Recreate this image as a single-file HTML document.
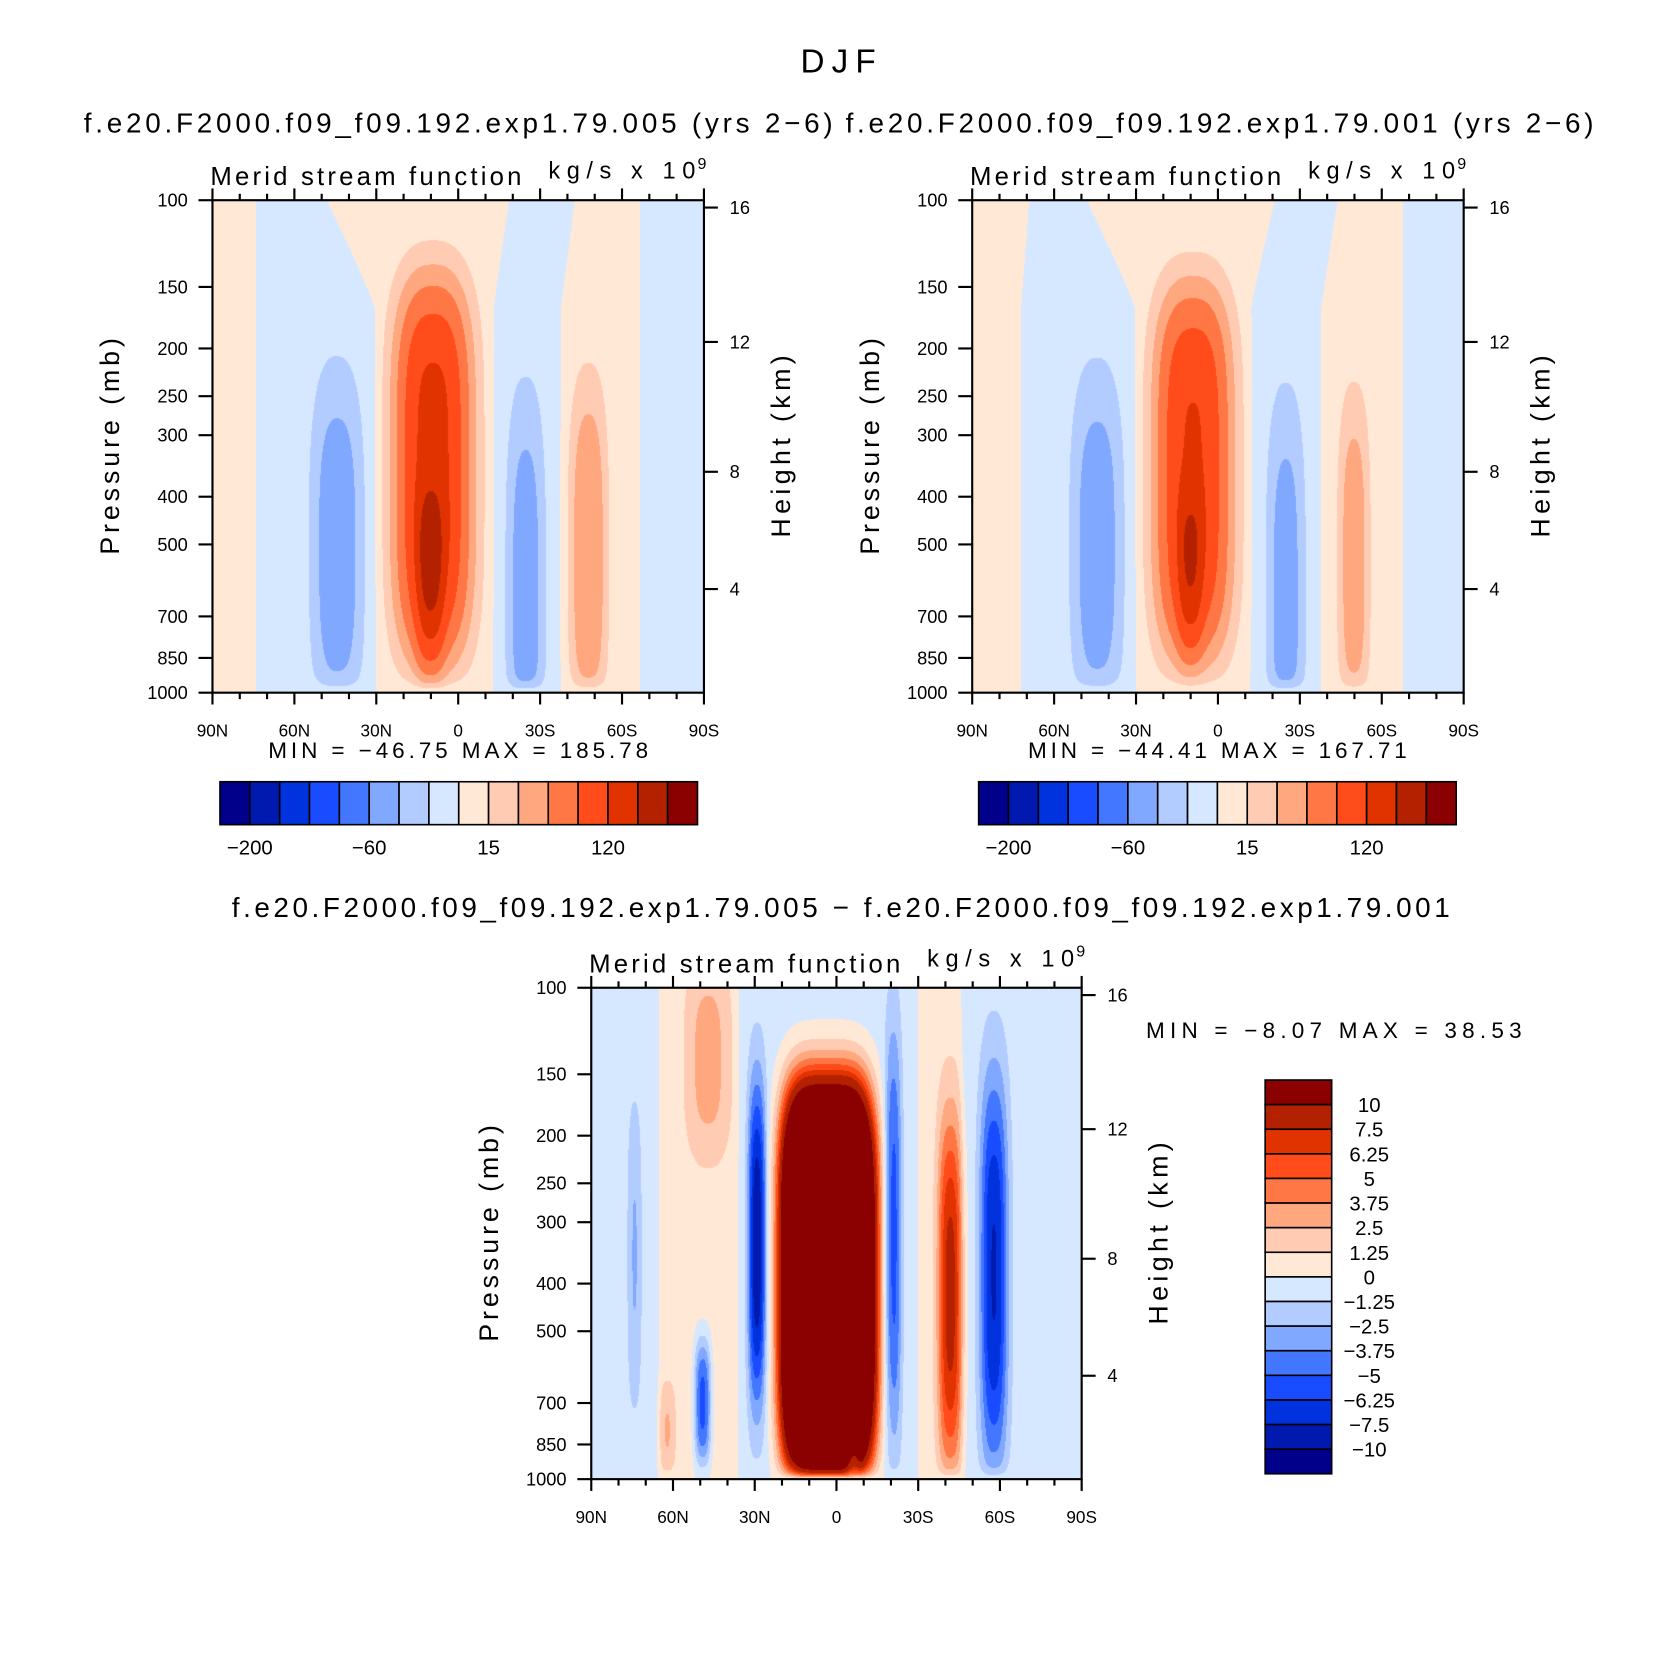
<!DOCTYPE html>
<html><head><meta charset="utf-8">
<style>
html,body{margin:0;padding:0;background:#fff;}
#wrap{position:relative;width:1674px;height:1677px;overflow:hidden;background:#fff;}
canvas{position:absolute;}
svg{position:absolute;left:0;top:0;}
text{font-family:"Liberation Sans",sans-serif;fill:#000;}
</style></head>
<body>
<div id="wrap">
<canvas id="c1"></canvas>
<canvas id="c2"></canvas>
<canvas id="c3"></canvas>
<svg id="svg" width="1674" height="1677" viewBox="2 2.4 1560 1563" preserveAspectRatio="none"></svg>
</div>
<script>
// ---------- data ----------
const colors16 = ['#00008B','#001AAF','#0033DD','#1A4CFF','#4477FF','#80A8FF','#B3CCFF','#D6E8FF','#FFE8D6','#FFCCB3','#FFA880','#FF7744','#FF4C1A','#E03300','#B32100','#8B0000'];
const levelsTop = [-200,-160,-120,-90,-60,-40,-20,0,15,30,50,80,120,160,200];
const levelsDiff = [-10,-7.5,-6.25,-5,-3.75,-2.5,-1.25,0,1.25,2.5,3.75,5,6.25,7.5,10];
const diffLevelLabels = ['10','7.5','6.25','5','3.75','2.5','1.25','0','\u22121.25','\u22122.5','\u22123.75','\u22125','\u22126.25','\u22127.5','\u221210'];
const pressureTicks = [100,150,200,250,300,400,500,700,850,1000];
const heightKm = [4,8,12,16];
const heightPres = [616,356,194,103.5];
const latTicks = [90,60,30,0,-30,-60,-90];
const latTickLabels = ['90N','60N','30N','0','30S','60S','90S'];
const topCbLabelIdx = [1,5,9,13];
const topCbLabels = ['\u2212200','\u221260','15','120'];

// plot 1 (exp .005) blobs
const p1Lat  = [9, 10, 44, 45, -48, -25];
const p1Pres = [355, 600, 520, 420, 525, 640];
const p1Amp  = [130, 65, -46, -8, 45, -50];
const p1WLat = [13, 5, 9, 12, 6.5, 7];
const p1WY   = [0.37, 0.19, 0.34, 0.45, 0.34, 0.42];
const p1BgTop = [74, 48, -19, -43, -67];
const p1BgLow = [74, 30, -13, -38, -67];
const p1BgMag = 5;
// plot 2 (exp .001) blobs
const p2Lat  = [9, 10, 44, 45, -50, -25];
const p2Pres = [360, 580, 520, 420, 540, 650];
const p2Amp  = [118, 55, -44, -8, 38, -48];
const p2WLat = [13, 4.5, 9, 12, 5.5, 7];
const p2WY   = [0.36, 0.17, 0.34, 0.45, 0.33, 0.42];
const p2BgTop = [69, 48, -21, -44, -68];
const p2BgLow = [72, 30, -12, -38, -68];
const p2BgMag = 5;
// difference blobs
const dLat  = [3, 29, 49, -6, -21, -42, -58, 47, 74, 62];
const dPres = [400, 330, 700, 830, 320, 420, 380, 140, 350, 800];
const dAmp  = [42, -8, -6, -7, -5, 7.5, -7, 2.5, -2, 2];
const dWLat = [16, 3.2, 3, 2.5, 3, 4.5, 5, 8, 2.5, 3];
const dWY   = [0.375, 0.33, 0.13, 0.07, 0.42, 0.36, 0.4, 0.2, 0.3, 0.1];
const dBgTop = [65, 36, -30, -46];
const dBgLow = [65, 36, -30, -46];
const dBgMag = -0.6;

const minMax1 = ['\u221246.75','185.78'];
const minMax2 = ['\u221244.41','167.71'];
const minMaxD = ['\u22128.07','38.53'];

// ---------- geometry ----------
const SX = 1674/1560, SY = 1677/1563, OX = 2, OY = 2.4;
const rx = d => (d-OX)*SX, ry = d => (d-OY)*SY;
const P1 = {x0:200,x1:658,y0:189,y1:648};
const P2 = {x0:908,x1:1366,y0:189,y1:648};
const P3 = {x0:553,x1:1010,y0:923,y1:1381};
const xOf = (P,lat) => P.x0 + (90-lat)/180*(P.x1-P.x0);
const yOf = (P,p) => P.y0 + Math.log10(p/100)*(P.y1-P.y0);

// ---------- field ----------
function makeField(lat, pres, amp, wl, wy, bgT, bgL, mag){
  const yc = pres.map(p=>Math.log10(p/100));
  return function(la, f){
    const w = Math.min(1, f/0.22);
    let prod = 1;
    for(let i=0;i<bgT.length;i++){
      const b = bgT[i]*(1-w) + bgL[i]*w;
      prod *= Math.tanh((la-b)/1.2);
    }
    let v = mag*prod;
    for(let i=0;i<lat.length;i++){
      const dx = Math.abs((la-lat[i])/wl[i]);
      const dy = Math.abs((f-yc[i])/wy[i]);
      const px = i===0 && amp===dAmp ? 4 : 2.5;
      const py = (i===0) ? 4 : 3;
      v += amp[i]*Math.exp(-(Math.pow(dx,px)+Math.pow(dy,py)));
    }
    v *= (1-Math.exp(-(1-f)/0.015));
    return v;
  };
}
function hexRGB(h){return [parseInt(h.slice(1,3),16),parseInt(h.slice(3,5),16),parseInt(h.slice(5,7),16)];}
const rgb = colors16.map(hexRGB);
function boxIndex(v, lev){let k=0; while(k<lev.length && v>=lev[k]) k++; return k;}
function paint(id, P, fn, lev){
  const c = document.getElementById(id);
  const L = rx(P.x0), T = ry(P.y0), W = Math.round(rx(P.x1)-L), H = Math.round(ry(P.y1)-T);
  c.width=W; c.height=H; c.style.left=L+'px'; c.style.top=T+'px';
  const ctx=c.getContext('2d'); const im=ctx.createImageData(W,H);
  for(let j=0;j<H;j++){ const f=(j+0.5)/H;
    for(let i=0;i<W;i++){ const la=90-180*(i+0.5)/W;
      const col=rgb[boxIndex(fn(la,f),lev)]; const o=(j*W+i)*4;
      im.data[o]=col[0];im.data[o+1]=col[1];im.data[o+2]=col[2];im.data[o+3]=255; } }
  ctx.putImageData(im,0,0);
}
paint('c1',P1,makeField(p1Lat,p1Pres,p1Amp,p1WLat,p1WY,p1BgTop,p1BgLow,p1BgMag),levelsTop);
paint('c2',P2,makeField(p2Lat,p2Pres,p2Amp,p2WLat,p2WY,p2BgTop,p2BgLow,p2BgMag),levelsTop);
paint('c3',P3,makeField(dLat,dPres,dAmp,dWLat,dWY,dBgTop,dBgLow,dBgMag),levelsDiff);

// ---------- svg ----------
const svg=document.getElementById('svg'); const NS='http://www.w3.org/2000/svg';
function el(tag, attrs, parent){const e=document.createElementNS(NS,tag); for(const k in attrs) e.setAttribute(k,attrs[k]); (parent||svg).appendChild(e); return e;}
function txt(s, attrs, parent){const e=el('text',attrs,parent); e.textContent=s; return e;}

function axes(P, key){
  const g=el('g',{});
  
  
  const fr=el('rect',{x:P.x0,y:P.y0,width:P.x1-P.x0,height:P.y1-P.y0,fill:'none',stroke:'#000','stroke-width':2},g);
  
  
  for(let lat=90;lat>=-90;lat-=10){
    const x=xOf(P,lat), major=(lat%30===0), len=major?11:6;
    el('line',{x1:x,x2:x,y1:P.y1,y2:P.y1+len,stroke:'#000','stroke-width':2},g);
    el('line',{x1:x,x2:x,y1:P.y0,y2:P.y0-len,stroke:'#000','stroke-width':2},g);
  }
  latTicks.forEach((lat,i)=>{
    const t=txt(latTickLabels[i],{x:xOf(P,lat),y:P.y1+41,'font-size':16,'text-anchor':'middle'},g);
    
    
  });
  pressureTicks.forEach(p=>{
    const y=yOf(P,p);
    el('line',{x1:P.x0-13,x2:P.x0,y1:y,y2:y,stroke:'#000','stroke-width':2},g);
    const t=txt(String(p),{x:P.x0-23,y:y+6,'font-size':17,'text-anchor':'end'},g);
    
    
  });
  heightKm.forEach((h,i)=>{
    const y=yOf(P,heightPres[i]);
    el('line',{x1:P.x1,x2:P.x1+13,y1:y,y2:y,stroke:'#000','stroke-width':2},g);
    const t=txt(String(h),{x:P.x1+24,y:y+6,'font-size':17},g);
    
    
  });
  const cy=(P.y0+P.y1)/2;
  const pl=txt('Pressure (mb)',{x:0,y:0,'font-size':25,'text-anchor':'middle',textLength:202,transform:`translate(${P.x0-87},${cy}) rotate(-90)`},g);
  
  
  const hl=txt('Height (km)',{x:0,y:0,'font-size':25,'text-anchor':'middle',textLength:170,transform:`translate(${P.x1+80},${cy}) rotate(-90)`},g);
  
  
  const lt=txt('Merid stream function',{x:P.x0-2,y:P.y0-14,'font-size':24,textLength:290},g);
  
  
  const rt=txt('kg/s x 10',{x:P.x0+313,y:P.y0-20,'font-size':22,textLength:137},g);
  
  
  txt('9',{x:P.x0+452,y:P.y0-29,'font-size':15},g);
}
axes(P1,'exp005'); axes(P2,'exp001'); axes(P3,'difference');

function hCbar(x0, key){
  const g=el('g',{});
  
  
  const w=(652-207)/16;
  colors16.forEach((c,i)=>{
    const r=el('rect',{x:x0+i*w,y:731,width:w,height:40,fill:c,stroke:'#000','stroke-width':1.5},g);
    
    
  });
  topCbLabelIdx.forEach((k,i)=>{
    const t=txt(topCbLabels[i],{x:x0+k*w,y:799,'font-size':19,'text-anchor':'middle'},g);
    
    
  });
}
hCbar(207,'exp005'); hCbar(914,'exp001');

(function(){
  const g=el('g',{});
  
  
  const h=(1376-1009)/16;
  for(let i=0;i<16;i++){
    const r=el('rect',{x:1181,y:1009+i*h,width:62,height:h,fill:colors16[15-i],stroke:'#000','stroke-width':1.5},g);
    
    
  }
  diffLevelLabels.forEach((s,i)=>{
    const t=txt(s,{x:1278,y:1009+(i+1)*h+7,'font-size':19,'text-anchor':'middle'},g);
    
    
  });
})();

function mm(arr, attrs, name){
  const t=txt(`MIN = ${arr[0]}   MAX = ${arr[1]}`,attrs);
  t.setAttribute('xml:space','preserve');
  
  
}
mm(minMax1,{x:252,y:709,'font-size':21,textLength:354},'exp005-min-max');
mm(minMax2,{x:960,y:709,'font-size':21,textLength:353},'exp001-min-max');
mm(minMaxD,{x:1070,y:970,'font-size':21,textLength:350},'difference-min-max');

const t0=txt('DJF',{x:748,y:70,'font-size':31,textLength:70});


const t1=txt('f.e20.F2000.f09_f09.192.exp1.79.005 (yrs 2\u22126)',{x:80,y:126,'font-size':26,textLength:698});


const t2=txt('f.e20.F2000.f09_f09.192.exp1.79.001 (yrs 2\u22126)',{x:790,y:126,'font-size':26,textLength:697});


const t3=txt('f.e20.F2000.f09_f09.192.exp1.79.005 \u2212 f.e20.F2000.f09_f09.192.exp1.79.001',{x:218,y:857,'font-size':26,textLength:1135});


</script>
</body></html>
